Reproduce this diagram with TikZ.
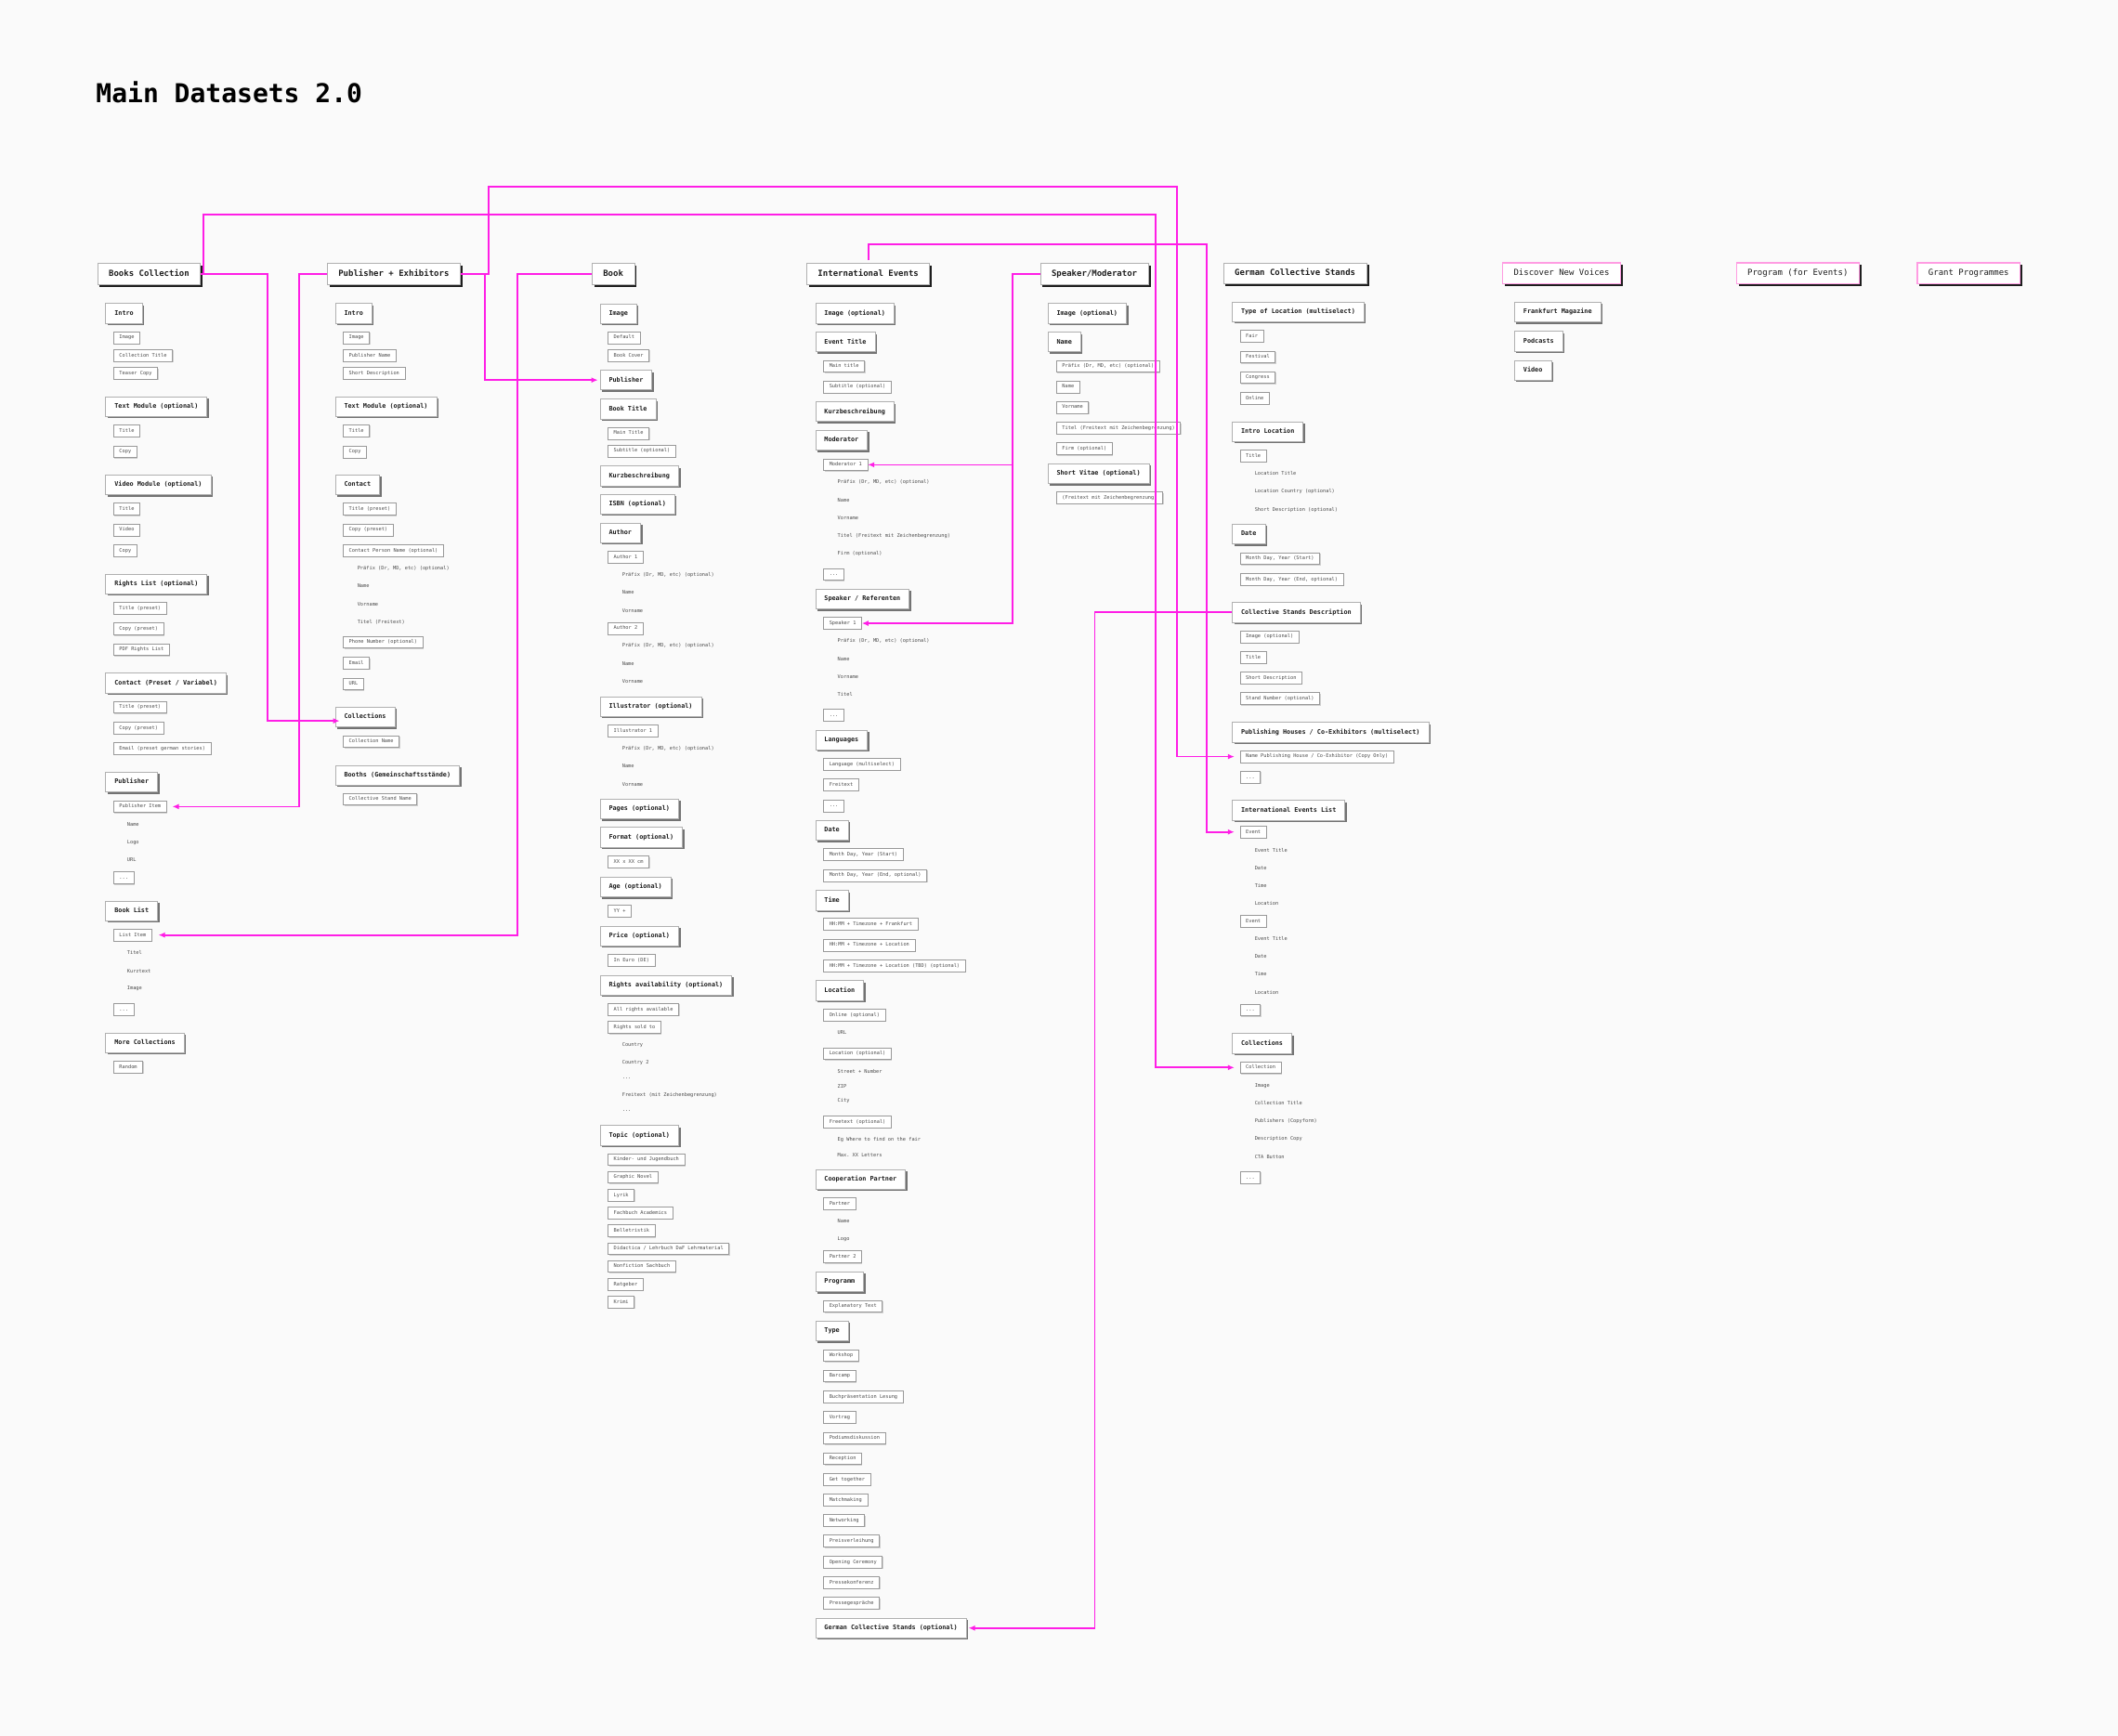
\documentclass[tikz,border=0pt]{standalone}
\usepackage{fontspec}
\setmonofont{DejaVu Sans Mono}
\usetikzlibrary{arrows.meta,positioning,shadows}
\definecolor{cMag}{HTML}{FF1EE6}
\definecolor{cPink}{HTML}{FF9CE2}
\definecolor{cInk}{HTML}{1E1E1E}
\definecolor{cGrey}{HTML}{4A4A4A}
\definecolor{cEdge}{HTML}{B0B0B0}
\definecolor{cPaper}{HTML}{FAFAFA}
\newcommand\etcdots{...}
\tikzset{
  hd/.style  ={anchor=west,draw=cEdge,fill=white,text=cInk,line width=0.8pt,
               font=\ttfamily\bfseries\fontsize{9}{10}\selectfont,
               inner xsep=12pt,inner ysep=7pt,text height=6.8pt,text depth=2pt,
               general shadow={fill=cInk,shadow xshift=2.4pt,shadow yshift=-2.4pt}},
  pk/.style  ={hd,draw=cPink,line width=1.2pt,font=\ttfamily\fontsize{9}{10}\selectfont},
  sub/.style ={anchor=west,draw=cEdge,fill=white,text=cInk,line width=0.8pt,
               font=\ttfamily\bfseries\fontsize{6.8}{8}\selectfont,
               inner xsep=9.5pt,inner ysep=7.3pt,text height=5.2pt,text depth=1.5pt,
               general shadow={fill=black!55,shadow xshift=2pt,shadow yshift=-2pt}},
  leaf/.style={anchor=west,draw=black!40,fill=white,text=cGrey,line width=0.7pt,
               font=\ttfamily\fontsize{5.3}{6}\selectfont,
               inner xsep=6pt,inner ysep=3.8pt,text height=4pt,text depth=1.2pt,
               general shadow={fill=black!18,shadow xshift=1pt,shadow yshift=-1pt}},
  txt/.style ={anchor=west,text=cGrey,inner sep=0pt,
               font=\ttfamily\fontsize{5.3}{6}\selectfont},
  ar/.style  ={draw=cMag,line width=1.7pt,-{Latex[length=7pt,width=6pt]}},
}

\begin{document}
\begin{tikzpicture}[x=1.454pt,y=-1.454pt]
\fill[cPaper] (0,0) rectangle (1568,1285);
\node[anchor=base west,inner sep=0pt,text=black,
      font=\ttfamily\bfseries\fontsize{28}{30}\selectfont] (title) at (71,76) {Main Datasets 2.0};

% main headings
\node[hd] (bc) at (72,203) {Books Collection};
\node[hd] (pe) at (242,203) {Publisher + Exhibitors};
\node[hd] (bk) at (438,203) {Book};
\node[hd] (ie) at (597,203) {International Events};
\node[hd] (sm) at (770,203) {Speaker/Moderator};
\node[hd] (gc) at (905.5,202.5) {German Collective Stands};
\node[pk] (dnv) at (1112,202.5) {Discover New Voices};
\node[pk] (pfe) at (1285,202.5) {Program (for Events)};
\node[pk] (gp) at (1419,202.5) {Grant Programmes};

% Books Collection
\foreach \nm/\yy/\tx in {bcintro/232/Intro, bctext/301/{Text Module (optional)},
    bcvideo/359/{Video Module (optional)}, bcrights/432.3/{Rights List (optional)},
    bccontact/505.7/{Contact (Preset / Variabel)}, bcpub/579/Publisher,
    bclist/674.5/{Book List}, bcmore/772/{More Collections}}
  \node[sub] (\nm) at (78,\yy) {\tx};
\foreach \nm/\yy/\tx in {bc1/250/Image, bc2/263.3/{Collection Title}, bc3/276.5/{Teaser Copy},
    bc4/319/Title, bc5/334.5/Copy, bc6/377/Title, bc7/392.4/Video, bc8/407.6/Copy,
    bc9/450.5/{Title (preset)}, bc10/465.7/{Copy (preset)}, bc11/481/{PDF Rights List},
    bc12/523.6/{Title (preset)}, bc13/539/{Copy (preset)}, bc14/554.3/{Email (preset german stories)},
    bcpubitem/597.2/{Publisher Item}, bc15/650/\etcdots, bclistitem/692.3/{List Item},
    bc16/747.4/\etcdots, bc17/790/Random}
  \node[leaf] (\nm) at (84,\yy) {\tx};
\foreach \nm/\yy/\tx in {bct1/610.2/Name, bct2/623.6/Logo, bct3/636.6/URL,
    bct4/705.6/Titel, bct5/718.9/Kurztext, bct6/732/Image}
  \node[txt] (\nm) at (94,\yy) {\tx};

% Publisher + Exhibitors
\foreach \nm/\yy/\tx in {peintro/232/Intro, petext/301/{Text Module (optional)},
    pecontact/359/Contact, pecoll/531/Collections, pebooth/574/{Booths (Gemeinschaftsstände)}}
  \node[sub] (\nm) at (248,\yy) {\tx};
\foreach \nm/\yy/\tx in {pe1/250/Image, pe2/263.3/{Publisher Name}, pe3/276.5/{Short Description},
    pe4/319/Title, pe5/334.6/Copy, pe6/377/{Title (preset)}, pe7/392.4/{Copy (preset)},
    pe8/407.6/{Contact Person Name (optional)}, pe9/475.5/{Phone Number (optional)},
    pe10/491/Email, pe11/506.4/URL, pe12/549/{Collection Name}, pe13/591.7/{Collective Stand Name}}
  \node[leaf] (\nm) at (254,\yy) {\tx};
\foreach \nm/\yy/\tx in {pet1/420.8/{Präfix (Dr, MD, etc) (optional)}, pet2/434/Name,
    pet3/447.2/Vorname, pet4/460.4/{Titel (Freitext)}}
  \node[txt] (\nm) at (264.5,\yy) {\tx};

% Book
\foreach \nm/\yy/\tx in {bkimage/232.2/Image, bkpub/281.4/Publisher, bktitle/302.9/{Book Title},
    bkkurz/352.4/Kurzbeschreibung, bkisbn/373.3/{ISBN (optional)}, bkauthor/394.5/Author,
    bkillu/523.2/{Illustrator (optional)}, bkpages/599/{Pages (optional)},
    bkformat/620/{Format (optional)}, bkage/656.8/{Age (optional)}, bkprice/693/{Price (optional)},
    bkrights/729.5/{Rights availability (optional)}, bktopic/840.6/{Topic (optional)}}
  \node[sub] (\nm) at (444,\yy) {\tx};
\foreach \nm/\yy/\tx in {bk1/250/Default, bk2/263.2/{Book Cover}, bk3/320.8/{Main Title},
    bk4/333.9/{Subtitle (optional)}, bk5/412.5/{Author 1}, bk6/465.3/{Author 2},
    bk7/541.1/{Illustrator 1}, bk8/638.2/{XX x XX cm}, bk9/674.5/{YY +}, bk10/710.9/{In Euro (DE)},
    bk11/747.3/{All rights available}, bk12/760.7/{Rights sold to},
    bk13/858.5/{Kinder- und Jugendbuch}, bk14/871.6/{Graphic Novel}, bk15/884.9/Lyrik,
    bk16/898.2/{Fachbuch Academics}, bk17/911.3/Belletristik,
    bk18/924.5/{Didactica / Lehrbuch DaF Lehrmaterial}, bk19/937.6/{Nonfiction Sachbuch},
    bk20/951/Ratgeber, bk21/964/Krimi}
  \node[leaf] (\nm) at (450,\yy) {\tx};
\foreach \nm/\yy/\tx in {bkt1/425.8/{Präfix (Dr, MD, etc) (optional)}, bkt2/438.8/Name,
    bkt3/452/Vorname, bkt4/478.3/{Präfix (Dr, MD, etc) (optional)}, bkt5/491.6/Name,
    bkt6/504.7/Vorname, bkt7/554.4/{Präfix (Dr, MD, etc) (optional)}, bkt8/567.4/Name,
    bkt9/580.8/Vorname, bkt10/773.7/Country, bkt11/787/{Country 2}, bkt12/798.5/\etcdots,
    bkt13/811/{Freitext (mit Zeichenbegrenzung)}, bkt14/822.5/\etcdots}
  \node[txt] (\nm) at (460.5,\yy) {\tx};

% International Events
\foreach \nm/\yy/\tx in {ieimage/232.1/{Image (optional)}, ietitle/253.2/{Event Title},
    iekurz/304.8/Kurzbeschreibung, iemodh/325.9/Moderator, iespkh/443.6/{Speaker / Referenten},
    ielang/548/Languages, iedate/614.8/Date, ietime/666.6/Time, ieloc/733.4/Location,
    iecoop/873.2/{Cooperation Partner}, ieprog/949/Programm, ietype/985.5/Type,
    iegcs/1205.4/{German Collective Stands (optional)}}
  \node[sub] (\nm) at (603.5,\yy) {\tx};
\foreach \nm/\yy/\tx in {ie1/271.2/{Main title}, ie2/286.4/{Subtitle (optional)},
    iemod/344.1/{Moderator 1}, ie3/425.2/\etcdots, iespk/461.5/{Speaker 1}, ie4/529.6/\etcdots,
    ie5/566/{Language (multiselect)}, ie6/581.1/Freitext, ie7/596.6/\etcdots,
    ie8/632.7/{Month Day, Year (Start)}, ie9/648.2/{Month Day, Year (End, optional)},
    ie10/684.3/{HH:MM + Timezone + Frankfurt}, ie11/699.8/{HH:MM + Timezone + Location},
    ie12/715/{HH:MM + Timezone + Location (TBD) (optional)}, ie13/751.6/{Online (optional)},
    ie14/780.1/{Location (optional)}, ie15/830.5/{Freetext (optional)}, ie16/891.1/Partner,
    ie17/930.6/{Partner 2}, ie18/967.2/{Explanatory Text}, ie19/1003.6/Workshop,
    ie20/1018.7/Barcamp, ie21/1034.1/{Buchpräsentation Lesung}, ie22/1049.3/Vortrag,
    ie23/1064.8/Podiumsdiskussion, ie24/1080/Reception, ie25/1095.3/{Get together},
    ie26/1110.7/Matchmaking, ie27/1125.8/Networking, ie28/1141/Preisverleihung,
    ie29/1156.6/{Opening Ceremony}, ie30/1171.7/Pressekonferenz, ie31/1187/Pressegespräche}
  \node[leaf] (\nm) at (609.6,\yy) {\tx};
\foreach \nm/\yy/\tx in {iet1/357.1/{Präfix (Dr, MD, etc) (optional)}, iet2/370.4/Name,
    iet3/383.4/Vorname, iet4/396.7/{Titel (Freitext mit Zeichenbegrenzung)},
    iet5/409.7/{Firm (optional)}, iet6/474.8/{Präfix (Dr, MD, etc) (optional)},
    iet7/487.8/Name, iet8/501.1/Vorname, iet9/514.1/Titel, iet10/764.6/URL,
    iet11/793.1/{Street + Number}, iet12/804.2/ZIP, iet13/815.2/City,
    iet14/843.7/{Eg Where to find on the fair}, iet15/855/{Max. XX Letters},
    iet16/904.4/Name, iet17/917.6/Logo}
  \node[txt] (\nm) at (620,\yy) {\tx};

% Speaker/Moderator
\foreach \nm/\yy/\tx in {smimage/232.1/{Image (optional)}, smname/253.2/Name,
    smvitae/350.8/{Short Vitae (optional)}}
  \node[sub] (\nm) at (775.5,\yy) {\tx};
\foreach \nm/\yy/\tx in {sm1/271.2/{Präfix (Dr, MD, etc) (optional)}, sm2/286.4/Name,
    sm3/301.6/Vorname, sm4/317/{Titel (Freitext mit Zeichenbegrenzung)},
    sm5/332.3/{Firm (optional)}, sm6/368.6/{(Freitext mit Zeichenbegrenzung)}}
  \node[leaf] (\nm) at (782,\yy) {\tx};

% German Collective Stands
\foreach \nm/\yy/\tx in {gctype/230.9/{Type of Location (multiselect)},
    gcintro/319.5/{Intro Location}, gcdate/395.5/Date,
    gcdesc/453.4/{Collective Stands Description},
    gcpub/542.1/{Publishing Houses / Co-Exhibitors (multiselect)},
    gclist/599.9/{International Events List}, gccollh/772.5/Collections}
  \node[sub] (\nm) at (912,\yy) {\tx};
\foreach \nm/\yy/\tx in {gc1/249/Fair, gc2/264.3/Festival, gc3/279.5/Congress, gc4/294.8/Online,
    gc5/337.5/Title, gc6/413.6/{Month Day, Year (Start)}, gc7/428.9/{Month Day, Year (End, optional)},
    gc8/471.4/{Image (optional)}, gc9/486.8/Title, gc10/502/{Short Description},
    gc11/517.3/{Stand Number (optional)},
    gcname/560.2/{Name Publishing House / Co-Exhibitor (Copy Only)}, gc12/575.4/\etcdots,
    gcevent/616/Event, gc13/682/Event, gc14/747.8/\etcdots, gccoll/790.4/Collection, gc15/871.8/\etcdots}
  \node[leaf] (\nm) at (918,\yy) {\tx};
\foreach \nm/\yy/\tx in {gct1/350.7/{Location Title}, gct2/364/{Location Country (optional)},
    gct3/377.3/{Short Description (optional)}, gct4/629.3/{Event Title}, gct5/642.4/Date,
    gct6/655.6/Time, gct7/668.7/Location, gct8/695.1/{Event Title}, gct9/708.4/Date,
    gct10/721.4/Time, gct11/734.7/Location, gct12/803.8/Image, gct13/816.8/{Collection Title},
    gct14/830.1/{Publishers (Copyform)}, gct15/843.2/{Description Copy}, gct16/856.4/{CTA Button}}
  \node[txt] (\nm) at (928.8,\yy) {\tx};

% Discover New Voices
\foreach \nm/\yy/\tx in {dnv1/231/{Frankfurt Magazine}, dnv2/252.6/Podcasts, dnv3/274.2/Video}
  \node[sub] (\nm) at (1121,\yy) {\tx};

% links
\draw[ar,shorten >=-5pt] (bc.east) -- (198,203) |- ([yshift=-4pt]pecoll.west);
\draw[ar,shorten >=6pt] (bc.east) -| (150.5,159) -- (855.5,159) |- (gccoll.west);
\draw[ar,shorten >=2pt] (pe.east) -- (359,203) |- (bkpub.west);
\draw[ar,shorten >=6pt] (pe.east) -| (361.5,138) -- (871.5,138) |- (gcname.west);
\draw[ar,shorten >=6pt] (pe.west) -- (221.5,203) |- (bcpubitem.east);
\draw[ar,shorten >=7pt] (bk.west) -- (383,203) |- (bclistitem.east);
\draw[ar,shorten >=6pt,shorten <=3pt] (ie.north) |- (893.5,181) |- (gcevent.west);
\draw[ar] (sm.west) -- (749.5,203) |- (iemod.east);
\draw[ar] (sm.west) -- (749.5,203) |- (iespk.east);
\draw[ar,shorten >=2pt] (gcdesc.west) -- (810.5,453.4) |- (iegcs.east);
\end{tikzpicture}
\end{document}
